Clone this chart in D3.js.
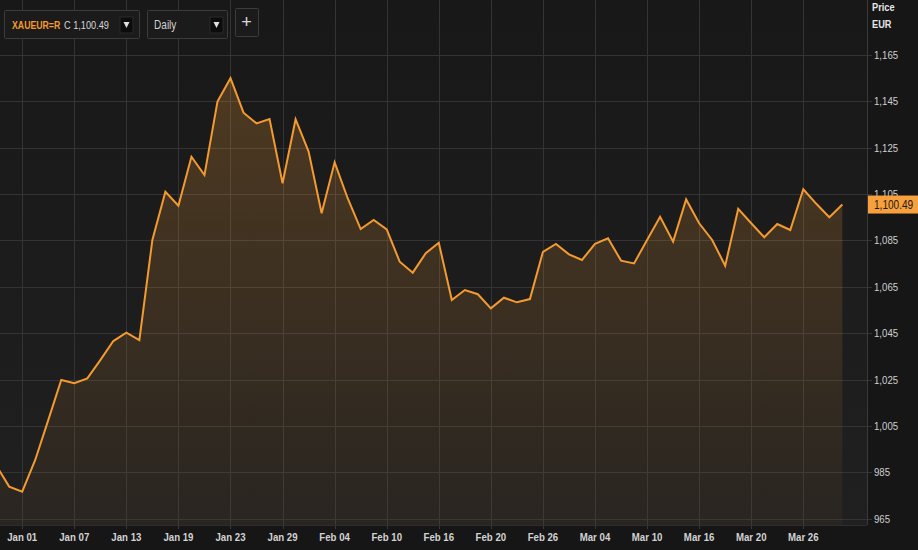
<!DOCTYPE html>
<html><head><meta charset="utf-8">
<script src="https://cdn.jsdelivr.net/npm/d3@7"></script>
<style>
html,body{margin:0;padding:0;background:#181818;}
svg{display:block;}
text{font-family:"Liberation Sans",Arial,sans-serif;}
</style></head>
<body>
<svg id="chart" width="918" height="550"></svg>
<script>
// ---- data ----
const symbol = "XAUEUR=R";
const lastLabel = "C 1,100.49";
const interval = "Daily";
const currency = "EUR";
const lastPrice = 1100.49;
const firstIndex = -2; // two sessions before the "Jan 01" tick
const prices = [
  988.0, 978.8, 976.6, 990.3, 1007.5, 1024.8, 1023.4, 1025.5, 1033.4, 1041.6,
  1045.2, 1042.0, 1085.2, 1106.0, 1100.0, 1121.1, 1113.2, 1144.9, 1155.0, 1140.1,
  1135.5, 1137.4, 1109.7, 1137.3, 1123.3, 1096.7, 1118.7, 1103.2, 1089.9, 1093.8,
  1089.8, 1075.8, 1071.1, 1079.5, 1084.0, 1059.3, 1063.6, 1061.8, 1055.7, 1060.3,
  1058.3, 1059.7, 1080.1, 1083.5, 1079.0, 1076.6, 1083.5, 1085.9, 1076.3, 1075.1,
  1085.2, 1095.2, 1084.5, 1102.7, 1092.4, 1085.2, 1074.1, 1098.6, 1092.4, 1086.4,
  1092.1, 1089.5, 1107.1, 1100.8, 1095.0, 1100.49
];
const tickLabels = ["Jan 01","Jan 07","Jan 13","Jan 19","Jan 23","Jan 29","Feb 04","Feb 10",
  "Feb 16","Feb 20","Feb 26","Mar 04","Mar 10","Mar 16","Mar 20","Mar 26"];
const tickStep = 4;
const yTicks = [965, 985, 1005, 1025, 1045, 1065, 1085, 1105, 1125, 1145, 1165];

// ---- layout ----
const W = 918, H = 550;
const plotR = 867, plotB = 525;
const NS = 0.84; // narrow font horizontal scale
const svg = d3.select("#chart");

const x = d3.scaleLinear().domain([0, 60]).range([22.2, 803.3]);
const y = d3.scaleLinear().domain([965, 1165]).range([518.6, 55]);
const data = prices.map((v, i) => ({i: i + firstIndex, v}));

const tr = (px, py, s = NS) => `translate(${px},${py}) scale(${s},1)`;

const defs = svg.append("defs");
const bg = defs.append("linearGradient").attr("id","bg").attr("x1",0).attr("x2",0).attr("y1",0).attr("y2",1);
bg.append("stop").attr("offset","0%").attr("stop-color","#181818");
bg.append("stop").attr("offset","100%").attr("stop-color","#202020");
const ag = defs.append("linearGradient").attr("id","ag").attr("gradientUnits","userSpaceOnUse")
  .attr("x1",0).attr("x2",0).attr("y1",y(1155)).attr("y2",plotB);
ag.append("stop").attr("offset","0%").attr("stop-color","#f7a03a").attr("stop-opacity",0.24);
ag.append("stop").attr("offset","100%").attr("stop-color","#f7a03a").attr("stop-opacity",0.04);
defs.append("clipPath").attr("id","clip").append("rect").attr("x",0).attr("y",0).attr("width",plotR).attr("height",plotB);

svg.append("rect").attr("width",W).attr("height",H).attr("fill","#161616");
svg.append("rect").attr("width",plotR).attr("height",plotB).attr("fill","url(#bg)");

// grid
const g = svg.append("g");
g.selectAll("line.h").data(yTicks).join("line")
  .attr("x1",0).attr("x2",plotR+5).attr("y1",d=>Math.round(y(d))+0.5).attr("y2",d=>Math.round(y(d))+0.5)
  .attr("stroke","#343434").attr("stroke-width",1);
g.selectAll("line.v").data(tickLabels).join("line")
  .attr("x1",(d,k)=>Math.round(x(k*tickStep))+0.5).attr("x2",(d,k)=>Math.round(x(k*tickStep))+0.5)
  .attr("y1",0).attr("y2",plotB)
  .attr("stroke","#343434").attr("stroke-width",1);
g.selectAll("line.t").data(tickLabels).join("line")
  .attr("x1",(d,k)=>Math.round(x(k*tickStep))+0.5).attr("x2",(d,k)=>Math.round(x(k*tickStep))+0.5)
  .attr("y1",plotB).attr("y2",plotB+4)
  .attr("stroke","#3a3a3a");
svg.append("line").attr("x1",0).attr("x2",plotR).attr("y1",plotB+0.5).attr("y2",plotB+0.5).attr("stroke","#2e2e2e");
svg.append("line").attr("x1",plotR+0.5).attr("x2",plotR+0.5).attr("y1",0).attr("y2",plotB).attr("stroke","#3a3a3a");

// area + line
const area = d3.area().x(d=>x(d.i)).y0(plotB).y1(d=>y(d.v));
const line = d3.line().x(d=>x(d.i)).y(d=>y(d.v));
const pg = svg.append("g").attr("clip-path","url(#clip)");
pg.append("path").datum(data).attr("d",area).attr("fill","url(#ag)");
pg.append("path").datum(data).attr("d",line).attr("fill","none")
  .attr("stroke","#f39a30").attr("stroke-width",2).attr("stroke-linejoin","miter");

// y axis labels
svg.selectAll("text.yl").data(yTicks).join("text")
  .attr("transform",d=>tr(874, y(d)+4))
  .attr("fill","#cfcfcf").attr("font-size",11.5)
  .text(d=>d3.format(",")(d));
svg.append("text").attr("transform",tr(872,11)).attr("fill","#e6e6e6").attr("font-size",11).attr("font-weight","bold").text("Price");
svg.append("text").attr("transform",tr(872,28)).attr("fill","#e6e6e6").attr("font-size",11).attr("font-weight","bold").text(currency);

// last price tag
svg.append("rect").attr("x",868).attr("y",y(lastPrice)-9).attr("width",50).attr("height",18).attr("fill","#f7a03c");
svg.append("text").attr("transform",tr(874, y(lastPrice)+4.5)).attr("fill","#1a1a1a").attr("font-size",12)
  .text(d3.format(",.2f")(lastPrice));

// x labels
svg.selectAll("text.xl").data(tickLabels).join("text")
  .attr("transform",(d,k)=>tr(x(k*tickStep), 541)).attr("text-anchor","middle")
  .attr("fill","#d2d2d2").attr("font-size",11.5).attr("font-weight","bold")
  .text(d=>d);

// controls
const c = svg.append("g");
function box(x0,y0,w,h){
  c.append("rect").attr("x",x0+0.5).attr("y",y0+0.5).attr("width",w).attr("height",h)
   .attr("fill","#1b1b1b").attr("stroke","#3c3c3c").attr("rx",1);
}
function btn(x0,y0){
  c.append("rect").attr("x",x0).attr("y",y0).attr("width",13).attr("height",16).attr("fill","#0c0c0c").attr("stroke","#2a2a2a");
  c.append("path").attr("d",`M${x0+3.5},${y0+5} L${x0+9.5},${y0+5} L${x0+6.5},${y0+11} Z`).attr("fill","#e0e0e0");
}
box(4,10,135,28);
c.append("text").attr("transform",tr(12,29,0.76))
  .attr("fill","#f39a30").attr("font-size",11.5).attr("font-weight","bold").text(symbol);
c.append("text").attr("transform",tr(64,29,0.8))
  .attr("fill","#d8d8d8").attr("font-size",11.5).text(lastLabel);
btn(120,17);
box(147,10,80,28);
c.append("text").attr("transform",tr(154,29)).attr("fill","#d0d0d0").attr("font-size",12).text(interval);
btn(210,17);
box(235,8,23,28);
c.append("text").attr("x",246.5).attr("y",28).attr("text-anchor","middle").attr("fill","#d8d8d8").attr("font-size",18).text("+");
</script>
</body></html>
